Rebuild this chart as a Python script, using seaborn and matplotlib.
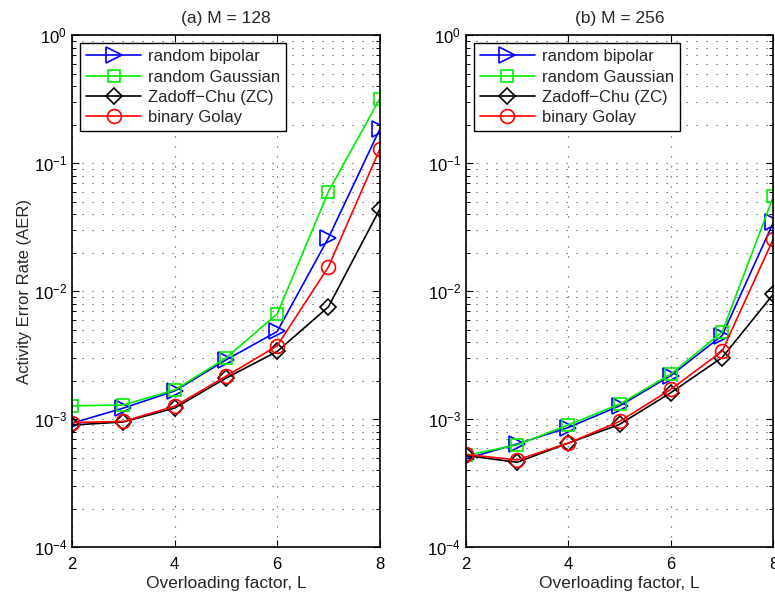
import numpy as np
import pandas as pd
import matplotlib
matplotlib.use('Agg')
import matplotlib.pyplot as plt
import matplotlib.ticker as mticker
import seaborn as sns

# 数据
overload = [2, 3, 4, 5, 6, 7, 8]
schemes = ['random bipolar', 'random Gaussian', 'Zadoff\u2212Chu (ZC)', 'binary Golay']

aer_m128 = {
    'random bipolar':  [9.3e-4, 1.22e-3, 1.66e-3, 2.9e-3, 4.84e-3, 0.0261, 0.184],
    'random Gaussian': [1.27e-3, 1.29e-3, 1.69e-3, 3.0e-3, 6.65e-3, 0.060, 0.318],
    'Zadoff\u2212Chu (ZC)': [9.0e-4, 9.5e-4, 1.22e-3, 2.09e-3, 3.38e-3, 7.55e-3, 0.0437],
    'binary Golay':    [9.4e-4, 9.6e-4, 1.26e-3, 2.16e-3, 3.74e-3, 0.0155, 0.128],
}
aer_m256 = {
    'random bipolar':  [4.9e-4, 6.4e-4, 8.6e-4, 1.27e-3, 2.19e-3, 4.5e-3, 0.0346],
    'random Gaussian': [5.2e-4, 6.3e-4, 9.0e-4, 1.31e-3, 2.25e-3, 4.8e-3, 0.055],
    'Zadoff\u2212Chu (ZC)': [5.2e-4, 4.6e-4, 6.5e-4, 9.1e-4, 1.61e-3, 3.03e-3, 9.5e-3],
    'binary Golay':    [5.3e-4, 4.8e-4, 6.5e-4, 9.6e-4, 1.71e-3, 3.4e-3, 0.0257],
}
titles = ['(a) M = 128', '(b) M = 256']

# 样式
colors = {'random bipolar': '#0000ff', 'random Gaussian': '#00ee00',
          'Zadoff\u2212Chu (ZC)': '#000000', 'binary Golay': '#ff0000'}
markers = {'random bipolar': '>', 'random Gaussian': 's',
           'Zadoff\u2212Chu (ZC)': 'D', 'binary Golay': 'o'}
msizes = {'random bipolar': 11, 'random Gaussian': 9,
          'Zadoff\u2212Chu (ZC)': 8, 'binary Golay': 10}

sns.set_style('ticks')
plt.rcParams['font.family'] = ['Liberation Sans', 'DejaVu Sans']
plt.rcParams['mathtext.fontset'] = 'custom'
plt.rcParams['mathtext.rm'] = 'Liberation Sans'
plt.rcParams['xtick.direction'] = 'in'
plt.rcParams['ytick.direction'] = 'in'

fig = plt.figure(figsize=(7.75, 5.96), dpi=100)
ax1 = fig.add_axes([0.093, 0.082, 0.397, 0.859])
ax2 = fig.add_axes([0.601, 0.082, 0.397, 0.859])

for ax, data, title in zip([ax1, ax2], [aer_m128, aer_m256], titles):
    for s in schemes:
        sns.lineplot(x=overload, y=data[s], ax=ax, color=colors[s],
                     marker=markers[s], markersize=msizes[s],
                     markerfacecolor='none', markeredgecolor=colors[s],
                     markeredgewidth=1.2, linewidth=1.2, label=s)
    ax.set_yscale('log')
    ax.set_xlim(2, 8)
    ax.set_ylim(1e-4, 1)
    ax.set_xticks([2, 4, 6, 8])
    ax.yaxis.set_major_locator(mticker.LogLocator(base=10, numticks=10))
    ax.yaxis.set_minor_locator(mticker.LogLocator(base=10, subs=np.arange(2, 10), numticks=10))
    ax.yaxis.set_minor_formatter(mticker.NullFormatter())
    ax.tick_params(which='both', top=True, right=True, labelsize=12, colors='black')
    ax.tick_params(which='major', length=5, width=0.8)
    ax.tick_params(which='minor', length=3, width=0.7)
    ax.tick_params(axis='x', pad=7)
    ax.grid(True, which='major', linestyle=(0, (1, 8)), color='#444444', linewidth=0.8)
    ax.grid(True, which='minor', axis='y', linestyle=(0, (1, 8)), color='#444444', linewidth=0.8)
    for sp in ax.spines.values():
        sp.set_linewidth(1.2)
        sp.set_color('black')
    ax.set_title(title, fontsize=12.5, pad=9)
    ax.set_xlabel('Overloading factor, L', fontsize=12.5, labelpad=3)
    leg = ax.legend(loc='upper left', fontsize=12, frameon=True, fancybox=False,
                    edgecolor='black', framealpha=1, handlelength=3.3,
                    borderaxespad=0.5, labelspacing=0.32, borderpad=0.35,
                    handletextpad=0.4)
    leg.get_frame().set_linewidth(1.0)

ax1.set_ylabel('Activity Error Rate (AER)', fontsize=12, labelpad=1)
ax2.set_ylabel('')

plt.savefig('out.png', dpi=100)
plt.close()
